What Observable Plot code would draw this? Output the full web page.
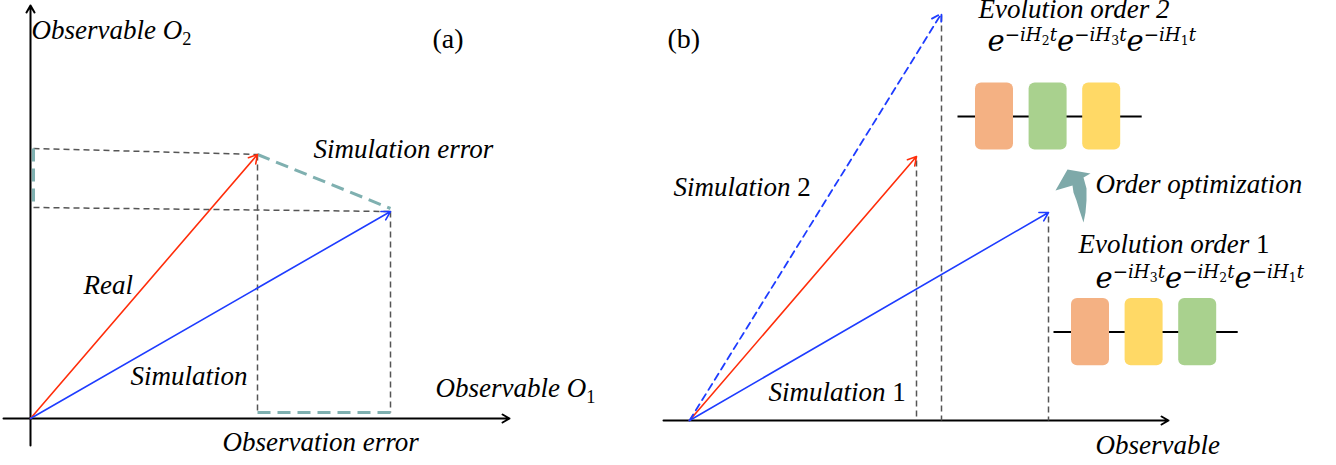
<!DOCTYPE html>
<html>
<head>
<meta charset="utf-8">
<script src="https://cdn.jsdelivr.net/npm/d3@7"></script>
<script src="https://cdn.jsdelivr.net/npm/@observablehq/plot@0.6"></script>
<style>
  html, body { margin: 0; padding: 0; background: #fff; }
  #wrap { display: flex; width: 1336px; height: 465px; overflow: hidden; }
  #wrap > svg { flex: none; }
</style>
</head>
<body>
<div id="wrap"></div>
<script>
// ---------------- DATA ----------------
// Panel (a): observable plane (O1, O2)
const vecANames = ["Real", "Simulation"];
const vecAX = [5.675, 9.0];          // O1 components
const vecAY = [6.6, 5.175];          // O2 components
const projAxisY = [6.75, 5.275];     // where the O2 projections meet the O2 axis (as drawn)
const simErrorEndY = 5.25;           // end of the simulation-error segment
const obsErrorY = 0.15;              // height of the observation-error segment
const vecAColors = ["#ff2d0a", "#1e3cff"];

// Panel (b): one observable, two Trotter orderings
const vecBNames = ["Real", "Simulation 1", "Simulation 2"];
const vecBX = [5.675, 8.975, 6.3];
const vecBY = [6.6, 5.2, 10.175];
const vecBColors = ["#ff2d0a", "#1e3cff", "#1e3cff"];
const vecBDashed = [false, false, true];
const projBTopY = [6.5, 5.1, 10.125];

// Gate sequences
const order1Terms = ["H3", "H2", "H1"];
const order1Colors = ["#F4B183", "#FFD966", "#A9D18E"];
const order2Terms = ["H2", "H3", "H1"];
const order2Colors = ["#F4B183", "#A9D18E", "#FFD966"];

// Curved "order optimization" arrow outline (panel b units)
const optArrowX = [9.45, 10.025, 9.85, 9.925, 9.925, 9.9, 9.85, 9.75, 9.675, 9.6, 9.575, 9.15];
const optArrowY = [6.275, 6.175, 6.075, 5.8, 5.5, 5.2, 4.95, 5.25, 5.5, 5.7, 5.875, 5.75];

// Text annotations (markup: ^{} superscript, _{} subscript, ~{} upright)
const labelsA = [
  {text: "Observable O_{~{2}}", x: 0.025, y: 9.5},
  {text: "Simulation error", x: 7.075, y: 6.525},
  {text: "Real", x: 1.325, y: 3.125},
  {text: "Simulation", x: 2.5, y: 0.85},
  {text: "Observable O_{~{1}}", x: 10.125, y: 0.55},
  {text: "Observation error", x: 4.8, y: -0.8}
];
const panelTagA = [{text: "(a)", x: 10.05, y: 9.275}];
const labelsB = [
  {text: "Evolution order 2", x: 7.225, y: 10.06},
  {text: "Simulation ~{2}", x: -0.4, y: 5.625},
  {text: "Order optimization", x: 10.15, y: 5.7},
  {text: "Evolution order ~{1}", x: 9.725, y: 4.2},
  {text: "Simulation ~{1}", x: 1.975, y: 0.5},
  {text: "Observable", x: 10.15, y: -0.825}
];
const panelTagB = [{text: "(b)", x: -0.55, y: 9.325}];
const formulasB = [
  {text: "e^{−iH_{~{2}}t}e^{−iH_{~{3}}t}e^{−iH_{~{1}}t}", x: 7.45, y: 9.25},
  {text: "e^{−iH_{~{3}}t}e^{−iH_{~{2}}t}e^{−iH_{~{1}}t}", x: 10.15, y: 3.325}
];

// ---------------- BUILD ----------------
const serif = "'Liberation Serif', 'Times New Roman', serif";
const mathFont = "'DejaVu Serif', serif";
const grayDash = {stroke: "#555", strokeWidth: 1.5, strokeDasharray: "6,4"};
const tealDash = {stroke: "#7fb0b0", strokeWidth: 3, strokeDasharray: "13,7"};
const labelStyle = {text: "text", x: "x", y: "y", fontFamily: serif, fontSize: 27, fontStyle: "italic",
  textAnchor: "start", lineAnchor: "bottom", fill: "black"};

const vecA = vecANames.map((n, i) => ({name: n, x: vecAX[i], y: vecAY[i], color: vecAColors[i], axisY: projAxisY[i]}));
const vecB = vecBNames.map((n, i) => ({name: n, x: vecBX[i], y: vecBY[i], color: vecBColors[i], dashed: vecBDashed[i], top: projBTopY[i]}));
const [realA, simA] = vecA;

const plotA = Plot.plot({
  width: 640, height: 465, margin: 0,
  x: {domain: [-0.75, 15.25], axis: null},
  y: {domain: [-1.175, 10.45], axis: null},
  style: {background: "white"},
  marks: [
    // axes
    Plot.arrow([{x1: -0.675, y1: 0, x2: 11.975, y2: 0}], {x1: "x1", y1: "y1", x2: "x2", y2: "y2", stroke: "black", strokeWidth: 2, headLength: 6}),
    Plot.arrow([{x1: 0, y1: -0.675, x2: 0, y2: 10.325}], {x1: "x1", y1: "y1", x2: "x2", y2: "y2", stroke: "black", strokeWidth: 2, headLength: 6}),
    // projections to O2 axis
    Plot.link(vecA, {x1: () => 0.075, y1: "axisY", x2: "x", y2: "y", ...grayDash}),
    // projections to O1 axis
    Plot.link(vecA, {x1: "x", y1: "y", x2: "x", y2: () => obsErrorY, ...grayDash}),
    // errors
    Plot.link([0], {x1: () => realA.x, y1: () => realA.y, x2: () => simA.x, y2: () => simErrorEndY, ...tealDash}),
    Plot.link([0], {x1: () => realA.x, y1: () => obsErrorY, x2: () => simA.x, y2: () => obsErrorY, ...tealDash}),
    Plot.link([0], {x1: () => 0.075, y1: () => realA.axisY, x2: () => 0.075, y2: () => simA.axisY, ...tealDash}),
    // vectors
    Plot.arrow(vecA, {x1: () => 0, y1: () => 0, x2: "x", y2: "y", stroke: "color", strokeWidth: 1.6, headLength: 9}),
    Plot.text(labelsA, labelStyle),
    Plot.text(panelTagA, {...labelStyle, fontStyle: "normal", fontSize: 28})
  ]
});

function gates(terms, colors, x0, yMid) {
  const step = 1.34, w = 0.95, h = 1.68;
  return terms.map((t, i) => ({term: t, color: colors[i], x1: x0 + i * step, x2: x0 + i * step + w, y1: yMid - h / 2, y2: yMid + h / 2}));
}
const gates2 = gates(order2Terms, order2Colors, 7.15, 7.6);
const gates1 = gates(order1Terms, order1Colors, 9.55, 2.21);
const wires = [gates2, gates1].map(g => ({x1: g[0].x1 - 0.45, x2: g[g.length - 1].x2 + 0.525, y: (g[0].y1 + g[0].y2) / 2}));
const optArrow = optArrowX.map((x, i) => ({x, y: optArrowY[i]}));

const plotB = Plot.plot({
  width: 696, height: 465, margin: 0,
  x: {domain: [-1.225, 16.175], axis: null},
  y: {domain: [-1.125, 10.5], axis: null},
  style: {background: "white"},
  marks: [
    Plot.arrow([{x1: -0.65, y1: 0, x2: 11.975, y2: 0}], {x1: "x1", y1: "y1", x2: "x2", y2: "y2", stroke: "black", strokeWidth: 2, headLength: 6}),
    Plot.link(vecB, {x1: "x", y1: "top", x2: "x", y2: () => 0, ...grayDash}),
    Plot.arrow(vecB.filter(d => !d.dashed), {x1: () => 0, y1: () => 0, x2: "x", y2: "y", stroke: "color", strokeWidth: 1.6, headLength: 9}),
    Plot.arrow(vecB.filter(d => d.dashed), {x1: () => 0, y1: () => 0, x2: "x", y2: "y", stroke: "color", strokeWidth: 1.8, headLength: 9, strokeDasharray: "7,5"}),
    // circuits
    Plot.link(wires, {x1: "x1", x2: "x2", y1: "y", y2: "y", stroke: "black", strokeWidth: 2}),
    Plot.rect([...gates2, ...gates1], {x1: "x1", x2: "x2", y1: "y1", y2: "y2", fill: "color", rx: 6}),
    // order optimization arrow
    Plot.line(optArrow, {x: "x", y: "y", fill: "#7ea9a9", stroke: "none", curve: "linear-closed"}),
    Plot.text(labelsB, labelStyle),
    Plot.text(panelTagB, {...labelStyle, fontStyle: "normal", fontSize: 28}),
    Plot.text(formulasB, {...labelStyle, fontFamily: mathFont, fontSize: 29})
  ]
});

const wrap = document.getElementById("wrap");
wrap.append(plotA, plotB);

// ---------- rich text (super/subscripts) ----------
function parse(s, size, shift, italic, out) {
  let i = 0, buf = "";
  const flush = () => { if (buf) out.push({text: buf, size, shift, italic}); buf = ""; };
  while (i < s.length) {
    const c = s[i];
    if ((c === "^" || c === "_" || c === "~") && s[i + 1] === "{") {
      flush();
      let depth = 0, j = i + 1;
      for (; j < s.length; j++) {
        if (s[j] === "{") depth++;
        else if (s[j] === "}") { depth--; if (depth === 0) break; }
      }
      const inner = s.slice(i + 2, j);
      if (c === "^") parse(inner, size * 0.63, shift + size * 0.34, italic, out);
      else if (c === "_") parse(inner, size * 0.68, shift - size * 0.24, italic, out);
      else parse(inner, size, shift, false, out);
      i = j + 1;
    } else { buf += c; i++; }
  }
  flush();
}
function richText(svg) {
  svg.querySelectorAll("text").forEach(t => {
    const s = t.textContent;
    if (!/[\^_~]\{/.test(s)) return;
    const cs = getComputedStyle(t);
    const size = parseFloat(cs.fontSize);
    const italic = cs.fontStyle === "italic";
    const segs = [];
    parse(s, size, 0, italic, segs);
    t.textContent = "";
    let cur = 0;
    for (const g of segs) {
      const ts = document.createElementNS("http://www.w3.org/2000/svg", "tspan");
      ts.textContent = g.text;
      ts.setAttribute("font-size", g.size);
      ts.setAttribute("font-style", g.italic ? "italic" : "normal");
      if (g.shift !== cur) ts.setAttribute("dy", -(g.shift - cur));
      cur = g.shift;
      t.appendChild(ts);
    }
  });
}
richText(plotA);
richText(plotB);
</script>
</body>
</html>
